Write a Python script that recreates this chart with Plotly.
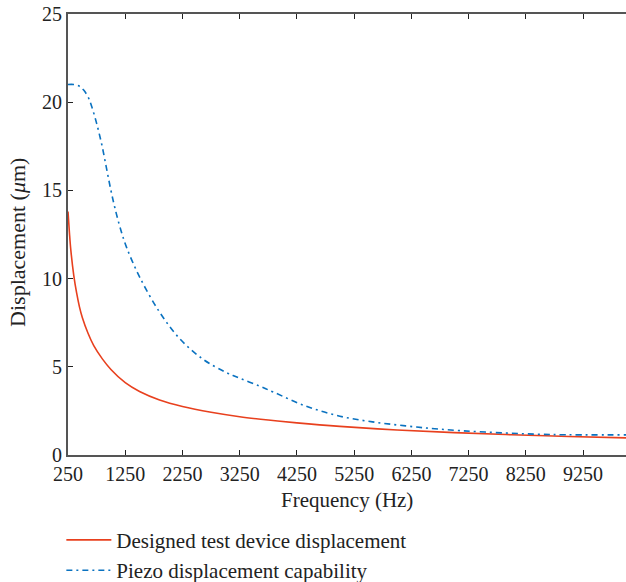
import plotly.graph_objects as go

# Frequency sweep (Hz) and displacement (um) for the designed test device
device_freq = [250, 275, 300, 350, 400, 450, 500, 600, 700, 850, 1000, 1250, 1500,
               1850, 2250, 2750, 3250, 3750, 4250, 5000, 6000, 7000, 8000, 9000, 10000]
device_disp = [13.8, 12.6, 11.6, 10.2, 9.2, 8.4, 7.8, 6.9, 6.2, 5.45, 4.85, 4.1, 3.6,
               3.12, 2.75, 2.42, 2.17, 1.98, 1.82, 1.62, 1.42, 1.27, 1.15, 1.05, 0.97]

# Piezo actuator displacement capability (um)
piezo_freq = [250, 350, 450, 520, 600, 660, 750, 840, 920, 1000, 1070, 1160, 1270,
              1500, 1850, 2200, 2600, 3000, 3250, 3600, 3850, 4400, 5000, 5570,
              6150, 6730, 7540, 8700, 10000]
piezo_disp = [21.0, 21.0, 20.9, 20.7, 20.3, 19.8, 18.8, 17.6, 16.3, 15.0, 14.0, 12.9, 11.8,
              10.1, 8.1, 6.6, 5.45, 4.7, 4.35, 3.9, 3.55, 2.78, 2.2, 1.88,
              1.65, 1.47, 1.3, 1.16, 1.14]

x_ticks = [250, 1250, 2250, 3250, 4250, 5250, 6250, 7250, 8250, 9250]
y_ticks = [0, 5, 10, 15, 20, 25]

FONT = "Liberation Serif"
INK = "#222"

fig = go.Figure()
fig.add_trace(go.Scatter(
    x=device_freq, y=device_disp, mode="lines", line_shape="spline",
    name="Designed test device displacement",
    line=dict(color="#e8401e", width=1.6),
))
fig.add_trace(go.Scatter(
    x=piezo_freq, y=piezo_disp, mode="lines", line_shape="spline",
    name="Piezo displacement capability",
    line=dict(color="#0a72c0", width=1.6, dash="6px,4px,2px,4px"),
))

fig.update_layout(
    width=626, height=582,
    margin=dict(l=68, r=0, t=14, b=127, autoexpand=False),
    paper_bgcolor="white", plot_bgcolor="white",
    font=dict(family=FONT, size=19, color=INK),
    showlegend=True,
    legend=dict(
        xref="container", yref="container",
        x=0.098, y=0.107, xanchor="left", yanchor="top",
        orientation="v", itemwidth=45,
        font=dict(family=FONT, size=21, color=INK),
        bgcolor="rgba(0,0,0,0)",
    ),
    xaxis=dict(
        range=[250, 10000], tickvals=x_ticks, ticks="inside", ticklen=5,
        tickcolor=INK, showline=True, linecolor="#555", linewidth=2,
        mirror="ticks", showgrid=False, zeroline=False, automargin=False,
        tickangle=0, tickfont=dict(family=FONT, size=20, color=INK),
    ),
    yaxis=dict(
        range=[0, 25], tickvals=y_ticks, ticks="inside", ticklen=5,
        tickcolor=INK, showline=True, linecolor="#555", linewidth=2,
        mirror=False, showgrid=False, zeroline=False, automargin=False,
        tickfont=dict(family=FONT, size=20, color=INK),
    ),
)

# Axis titles
fig.add_annotation(
    text="Frequency (Hz)", xref="paper", yref="paper", x=0.5, y=0,
    xanchor="center", yanchor="middle", yshift=-45, showarrow=False,
    font=dict(family=FONT, size=21, color=INK),
)
fig.add_annotation(
    text="Displacement (<i>μ</i>m)", xref="paper", yref="paper",
    x=-0.0896, y=0.481, xanchor="center", yanchor="middle",
    textangle=-90, showarrow=False,
    font=dict(family=FONT, size=22, color=INK),
)

fig.write_html("out.html")
